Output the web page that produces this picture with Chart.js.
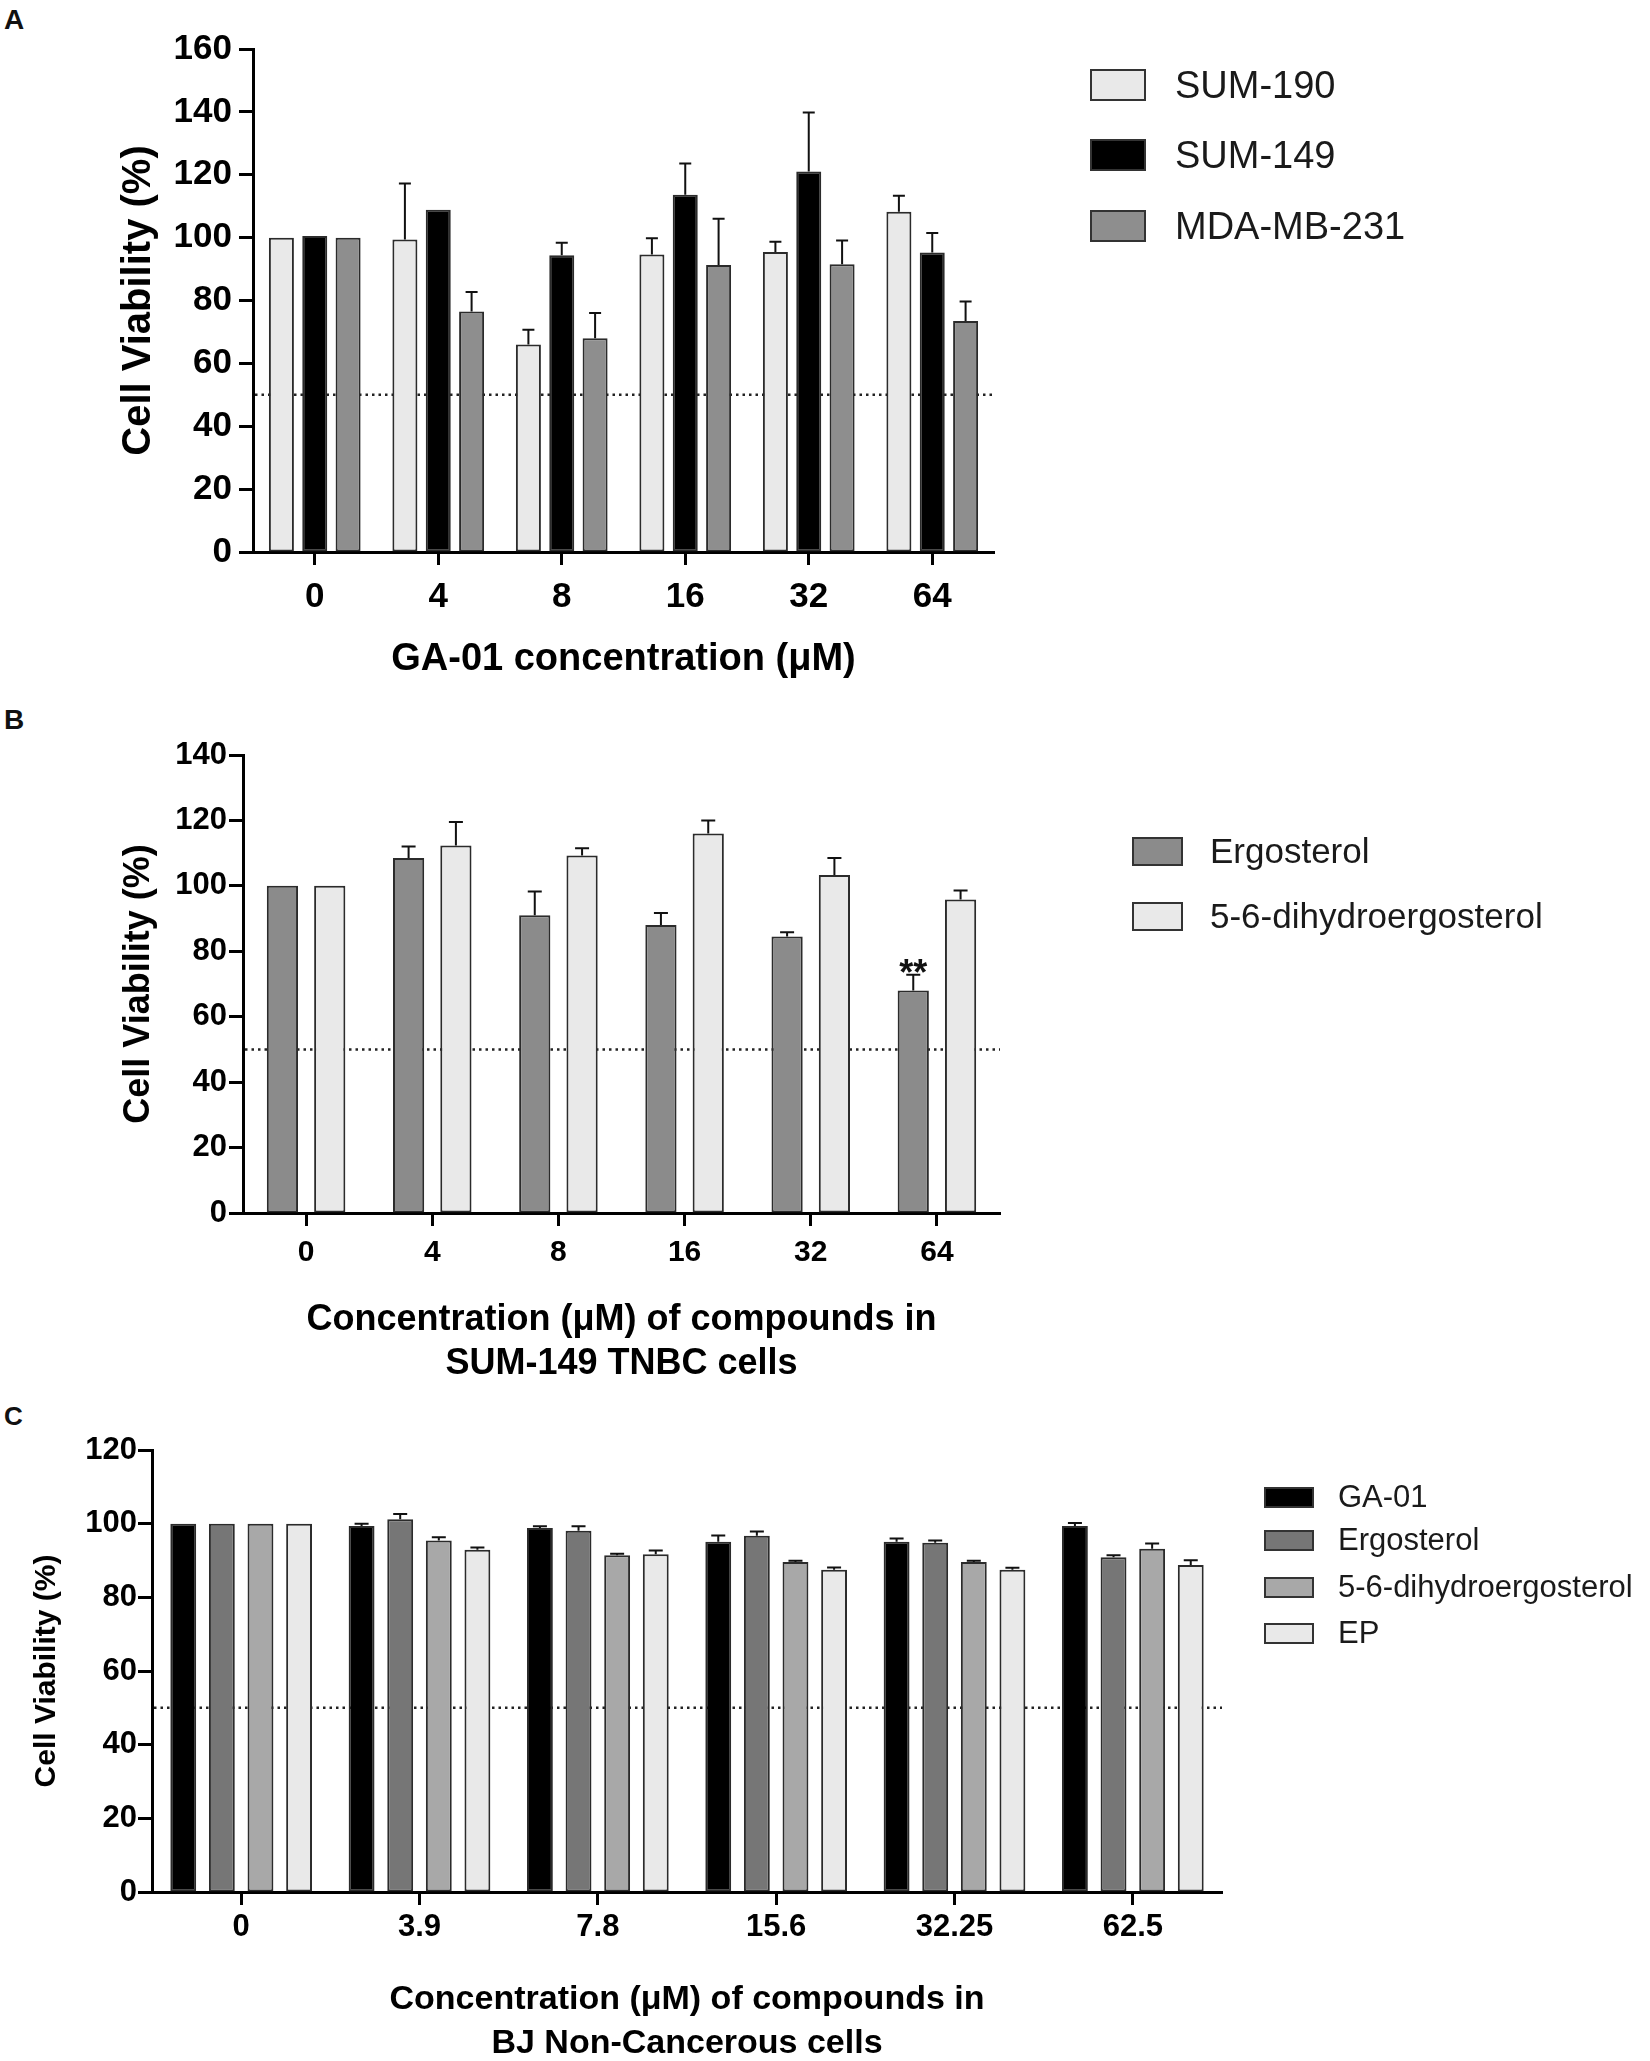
<!DOCTYPE html>
<html>
<head>
<meta charset="utf-8">
<title>Cell viability</title>
<script src="https://cdn.jsdelivr.net/npm/chart.js@4.4.1/dist/chart.umd.min.js"></script>
<style>
  html, body { margin: 0; padding: 0; background: #fff; }
  body { position: relative; width: 1650px; height: 2061px; overflow: hidden;
         font-family: 'Liberation Sans', Arial, Helvetica, sans-serif; color: #111; }
  canvas { position: absolute; left: 0; }
  .tag { position: absolute; left: 4px; font-weight: bold; font-size: 28px; line-height: 1; }
  .legend { position: absolute; left: 0; top: 0; }
  .legend .item { position: absolute; height: 60px; display: flex; align-items: center; white-space: nowrap; color: #1a1a1a; }
  .legend .box { display: inline-block; box-sizing: border-box; border: 2px solid #333; }
</style>
</head>
<body>
<div class="tag" style="top:6px">A</div>
<div class="tag" style="top:706px">B</div>
<div class="tag" style="top:1403px; font-size:26px">C</div>
<canvas id="chartA" width="1650" height="700" style="top:0px"></canvas>
<canvas id="chartB" width="1650" height="700" style="top:700px"></canvas>
<canvas id="chartC" width="1650" height="700" style="top:1400px"></canvas>
<script>
// ---- data ----
var dosesA = ['0', '4', '8', '16', '32', '64'];
var sum190 = [100, 99.4, 66, 94.6, 95.4, 108.2];
var sum190Err = [0, 17.8, 4.7, 5.2, 3.3, 5.1];
var sum149 = [100.5, 108.9, 94.4, 113.6, 121, 95.3];
var sum149Err = [0, 0, 4, 10, 18.8, 6.2];
var mda231 = [100, 76.5, 68, 91.3, 91.5, 73.5];
var mda231Err = [0, 6.2, 8, 14.7, 7.6, 6.2];

var dosesB = ['0', '4', '8', '16', '32', '64'];
var ergoB = [100, 108.5, 91, 88, 84.5, 68];
var ergoBErr = [0, 3.5, 7.3, 3.7, 1.3, 4.8];
var ergoBSig = ['', '', '', '', '', '**'];
var dhB = [100, 112.3, 109.3, 116, 103.3, 95.8];
var dhBErr = [0, 7.2, 2.2, 4, 5.2, 2.8];

var dosesC = ['0', '3.9', '7.8', '15.6', '32.25', '62.5'];
var ga01C = [100, 99.4, 98.8, 95.1, 95.1, 99.4];
var ga01CErr = [0, 0.6, 0.5, 1.7, 0.9, 0.8];
var ergoC = [100, 101.2, 98.1, 96.7, 94.8, 90.9];
var ergoCErr = [0, 1.4, 1.2, 1.2, 0.6, 0.5];
var dhC = [100, 95.4, 91.4, 89.6, 89.6, 93.2];
var dhCErr = [0, 0.9, 0.4, 0.3, 0.3, 1.4];
var epC = [100, 92.9, 91.7, 87.5, 87.5, 88.8];
var epCErr = [0, 0.6, 1.0, 0.6, 0.5, 1.3];

var LIGHT = '#e9e9e9', BLACK = '#000000';

Chart.defaults.font.family = "'Liberation Sans', Arial, Helvetica, sans-serif";
Chart.defaults.color = '#000';

// one-sided (upward) SD bars
var errorBars = {
  id: 'errorBars',
  afterDatasetsDraw: function(chart, args, o) {
    var ctx = chart.ctx, y = chart.scales.y;
    ctx.save();
    ctx.strokeStyle = '#111';
    ctx.lineWidth = o.width;
    chart.data.datasets.forEach(function(ds, i) {
      chart.getDatasetMeta(i).data.forEach(function(bar, j) {
        var e = ds.errors ? ds.errors[j] : 0;
        if (!e) return;
        var y0 = y.getPixelForValue(ds.data[j]);
        var y1 = y.getPixelForValue(ds.data[j] + e);
        ctx.beginPath();
        ctx.moveTo(bar.x, y0);
        ctx.lineTo(bar.x, y1);
        ctx.moveTo(bar.x - o.cap / 2, y1);
        ctx.lineTo(bar.x + o.cap / 2, y1);
        ctx.stroke();
      });
    });
    ctx.restore();
  }
};

// dotted 50% line behind the bars
var halfLine = {
  id: 'halfLine',
  beforeDatasetsDraw: function(chart, args, o) {
    var ctx = chart.ctx, a = chart.chartArea;
    var py = chart.scales.y.getPixelForValue(o.value);
    ctx.save();
    ctx.strokeStyle = '#222';
    ctx.lineWidth = 2.5;
    ctx.setLineDash([2.5, 4]);
    ctx.beginPath();
    ctx.moveTo(a.left + 2, py);
    ctx.lineTo(a.right, py);
    ctx.stroke();
    ctx.restore();
  }
};

// significance marks above the error bars
var sigMarks = {
  id: 'sigMarks',
  afterDatasetsDraw: function(chart, args, o) {
    var ctx = chart.ctx, y = chart.scales.y;
    ctx.save();
    ctx.fillStyle = '#111';
    ctx.font = 'bold 36px ' + Chart.defaults.font.family;
    ctx.textAlign = 'center';
    ctx.textBaseline = 'alphabetic';
    chart.data.datasets.forEach(function(ds, i) {
      if (!ds.marks) return;
      chart.getDatasetMeta(i).data.forEach(function(bar, j) {
        if (!ds.marks[j]) return;
        var top = y.getPixelForValue(ds.data[j] + (ds.errors[j] || 0));
        ctx.fillText(ds.marks[j], bar.x, top + 10);
      });
    });
    ctx.restore();
  }
};

function barPanel(p) {
  return {
    type: 'bar',
    data: {
      labels: p.labels,
      datasets: p.series.map(function(s) {
        return {
          label: s.label, data: s.data, errors: s.err, marks: s.marks,
          backgroundColor: s.color, borderColor: '#2b2b2b', borderWidth: 2,
          borderSkipped: false, categoryPercentage: p.cat, barPercentage: p.bar
        };
      })
    },
    options: {
      responsive: false,
      animation: false,
      devicePixelRatio: 1,
      layout: { padding: { left: 0, top: p.top, right: 1650 - p.right, bottom: 0 } },
      plugins: {
        legend: { display: false },
        tooltip: { enabled: false },
        errorBars: { cap: p.cap, width: 2 },
        halfLine: { value: 50 }
      },
      scales: {
        x: {
          offset: true,
          grid: { offset: false, drawOnChartArea: false, tickLength: 13, tickWidth: 3, tickColor: '#000' },
          border: { color: '#000', width: 3 },
          ticks: { font: { size: p.xFont, weight: 'bold' }, padding: p.xPad, color: '#000', maxRotation: 0, autoSkip: false },
          title: { display: true, text: p.xTitle, color: '#000',
                   font: { size: p.xTitleFont, weight: 'bold', lineHeight: p.xTitleLH },
                   padding: { top: 0, bottom: p.xTitlePad } },
          afterFit: function(s) { s.height = 700 - p.bottom; }
        },
        y: {
          min: 0, max: p.max,
          ticks: { stepSize: 20, font: { size: p.yFont, weight: 'bold' }, padding: p.yPad, color: '#000' },
          grid: { drawOnChartArea: false, tickLength: 14, tickWidth: 3, tickColor: '#000' },
          border: { color: '#000', width: 3 },
          title: { display: true, text: 'Cell Viability (%)', color: '#000',
                   font: { size: p.yTitleFont, weight: 'bold', lineHeight: 1.2 },
                   padding: { top: p.yTitlePad, bottom: 0 } },
          afterFit: function(s) { s.width = p.left; }
        }
      }
    },
    plugins: [halfLine, errorBars, sigMarks]
  };
}

function htmlLegend(chart, cfg) {
  var wrap = document.createElement('div');
  wrap.className = 'legend';
  chart.data.datasets.forEach(function(ds, i) {
    var row = document.createElement('div');
    row.className = 'item';
    row.style.left = cfg.left + 'px';
    row.style.top = (cfg.rows[i] - 30) + 'px';
    row.style.fontSize = cfg.font + 'px';
    var box = document.createElement('span');
    box.className = 'box';
    box.style.width = cfg.boxW + 'px';
    box.style.height = cfg.boxH + 'px';
    box.style.background = ds.backgroundColor;
    box.style.marginRight = (cfg.textX - cfg.left - cfg.boxW) + 'px';
    var txt = document.createElement('span');
    txt.textContent = ds.label;
    row.appendChild(box);
    row.appendChild(txt);
    wrap.appendChild(row);
  });
  document.body.appendChild(wrap);
}

var chartA = new Chart(document.getElementById('chartA'), barPanel({
  labels: dosesA, max: 160,
  series: [
    { label: 'SUM-190', data: sum190, err: sum190Err, color: LIGHT },
    { label: 'SUM-149', data: sum149, err: sum149Err, color: BLACK },
    { label: 'MDA-MB-231', data: mda231, err: mda231Err, color: '#8e8e8e' }
  ],
  left: 253, right: 994, top: 49, bottom: 552,
  cat: 0.81, bar: 0.75, cap: 12,
  xFont: 35, xPad: 11, yFont: 35, yPad: 7,
  xTitle: 'GA-01 concentration (\u03bcM)', xTitleFont: 38, xTitleLH: 1.2, xTitlePad: 18,
  yTitleFont: 40, yTitlePad: 115
}));

var chartB = new Chart(document.getElementById('chartB'), barPanel({
  labels: dosesB, max: 140,
  series: [
    { label: 'Ergosterol', data: ergoB, err: ergoBErr, marks: ergoBSig, color: '#8b8b8b' },
    { label: '5-6-dihydroergosterol', data: dhB, err: dhBErr, color: LIGHT }
  ],
  left: 243, right: 1000, top: 55, bottom: 513,
  cat: 0.75, bar: 0.66, cap: 14,
  xFont: 30, xPad: 9, yFont: 31, yPad: 2,
  xTitle: ['Concentration (\u03bcM) of compounds in', 'SUM-149 TNBC cells'],
  xTitleFont: 36, xTitleLH: 1.222, xTitlePad: 14,
  yTitleFont: 36, yTitlePad: 117
}));

var chartC = new Chart(document.getElementById('chartC'), barPanel({
  labels: dosesC, max: 120,
  series: [
    { label: 'GA-01', data: ga01C, err: ga01CErr, color: BLACK },
    { label: 'Ergosterol', data: ergoC, err: ergoCErr, color: '#767676' },
    { label: '5-6-dihydroergosterol', data: dhC, err: dhCErr, color: '#a8a8a8' },
    { label: 'EP', data: epC, err: epCErr, color: LIGHT }
  ],
  left: 152, right: 1222, top: 50, bottom: 492,
  cat: 0.866, bar: 0.67, cap: 14,
  xFont: 31, xPad: 4, yFont: 31, yPad: 1,
  xTitle: ['Concentration (\u03bcM) of compounds in', 'BJ Non-Cancerous cells'],
  xTitleFont: 34, xTitleLH: 1.294, xTitlePad: 34,
  yTitleFont: 30, yTitlePad: 29
}));

htmlLegend(chartA, { left: 1090, textX: 1175, boxW: 56, boxH: 32, font: 38, rows: [85, 155, 226] });
htmlLegend(chartB, { left: 1132, textX: 1210, boxW: 51, boxH: 29, font: 35, rows: [851, 916] });
htmlLegend(chartC, { left: 1264, textX: 1338, boxW: 50, boxH: 21, font: 31, rows: [1497, 1540, 1587, 1633] });
</script>
</body>
</html>
